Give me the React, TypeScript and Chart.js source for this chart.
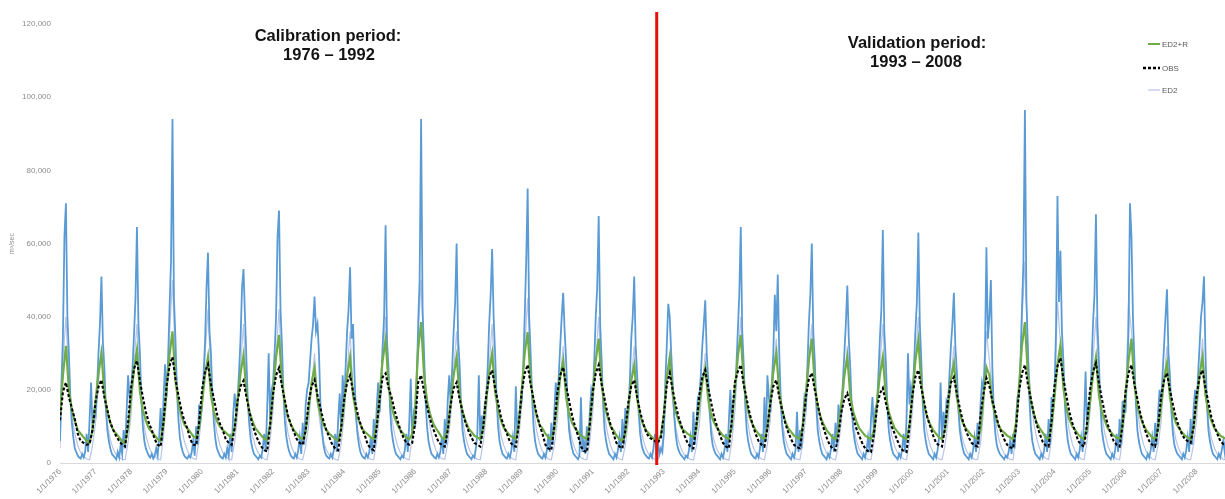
import { useEffect, useRef } from "react";
import { Chart, registerables } from "chart.js";

Chart.register(...registerables);

// Hydrological years shown on the axis
const YEARS = [
  1976, 1977, 1978, 1979, 1980, 1981, 1982, 1983, 1984, 1985, 1986, 1987, 1988,
  1989, 1990, 1991, 1992, 1993, 1994, 1995, 1996, 1997, 1998, 1999, 2000, 2001,
  2002, 2003, 2004, 2005, 2006, 2007, 2008,
];

// Observed discharge, monthly (1st of each month), thousand m³/sec
const OBS: number[][] = [
  [11.7, 19.5, 22, 18, 15, 12, 8, 6, 5.5, 5, 5.2, 9.1],
  [16.7, 20.8, 22.7, 18, 14.5, 11, 9, 7.3, 6, 5, 4.5, 11],
  [20.5, 25.8, 28, 22.4, 18, 14, 11, 9, 6.5, 5, 4.5, 11.5],
  [21, 26.5, 29, 23, 18.5, 14.5, 11.5, 9.5, 6.5, 5, 4.8, 11],
  [20, 25, 27, 21.5, 17.5, 13.5, 10.8, 9, 6.5, 5.5, 5, 9.5],
  [17, 21, 22.5, 18, 14, 10.5, 8, 6, 4.5, 3.5, 3.2, 10.5],
  [19, 24, 26, 21, 17, 13, 10.5, 8.5, 6.5, 5.5, 5, 9],
  [16.5, 21, 22.7, 18.5, 15, 11.5, 9, 7, 5, 4, 3.5, 9.5],
  [17.5, 22, 24, 19.5, 15.5, 12, 9.5, 7.5, 5, 4, 3.5, 9.8],
  [17.5, 23.5, 24.5, 20.5, 18, 14.5, 11.7, 9, 7, 5.5, 5, 5.5],
  [11, 22, 24, 19.5, 15.5, 12, 9.5, 7.5, 5.5, 5, 4.5, 8.8],
  [16, 20.5, 22, 17.5, 14, 11, 8.8, 7, 5.5, 5, 4.5, 10],
  [18.5, 23.5, 25.4, 20.5, 16.5, 12.5, 10, 8, 5.8, 4.8, 4.5, 10.5],
  [19.5, 24.5, 26.8, 21.5, 17.5, 13.5, 10.5, 8, 5, 4, 3.5, 10],
  [19, 24, 26.2, 21, 17, 13, 10, 7.5, 4.5, 3.3, 3, 10.5],
  [19.5, 24.5, 26.8, 21.5, 17.5, 13.5, 10.5, 8, 5.5, 4.5, 4, 9],
  [16.5, 21, 22.7, 18, 14, 11, 8.5, 7, 6.5, 6, 5.5, 7],
  [13, 21.5, 24.6, 20, 16, 12.5, 10, 7.5, 5.5, 4.5, 4, 10.5],
  [18.5, 23.5, 25.4, 20.5, 16.5, 12.5, 10, 7.5, 5.5, 4.5, 4, 12],
  [22, 25, 26.8, 21.5, 17.5, 13.5, 10.5, 8, 6, 5, 4.5, 9.5],
  [16.5, 21, 22.7, 18, 14.5, 11, 8.5, 6.5, 5, 4.3, 4, 10],
  [18, 23, 24.6, 20, 16, 12, 9.5, 7, 5, 4, 3.5, 7.5],
  [14, 17.5, 19, 15.5, 12.5, 9.5, 7.5, 5.5, 4, 3.2, 3, 8],
  [15, 19, 20.5, 16.5, 13, 10, 8, 6, 4, 3.3, 3, 10],
  [18.5, 23.5, 25.4, 20.5, 16.5, 12.5, 10, 7.5, 5.5, 4.8, 4.5, 9.5],
  [17, 22, 23.5, 19, 15, 11.5, 9, 7, 5.5, 4.8, 4.5, 13],
  [19, 23.2, 21, 17, 14, 10.5, 8.5, 6.5, 5, 4.3, 4, 9.5],
  [19.5, 24.5, 26.8, 21.5, 17.5, 13.5, 10.5, 8, 5.8, 4.8, 4.5, 11.5],
  [21, 26.5, 28.7, 23, 18.5, 14, 11, 8.5, 6, 5, 4.5, 11],
  [20, 25, 27.3, 22, 17.5, 13.5, 10.5, 8, 6, 5, 4.5, 10.5],
  [19.5, 24.5, 26.8, 21.5, 17.5, 13.5, 10.5, 8, 6, 5, 4.5, 10],
  [18, 22.5, 24.6, 20, 16, 12.5, 10, 8, 6.5, 6, 5.5, 10],
  [18.5, 23.5, 25.4, 20.5, 16.5, 12.5, 10, 8, 6, 5.2, 5, 9],
];

// ED2+R simulation, monthly, thousand m³/sec
const ED2R: number[][] = [
  [13, 24, 32, 20, 14.5, 11.5, 9, 8, 7, 6, 5.5, 9],
  [17, 24.5, 30, 19, 14, 11, 9, 8, 7, 6, 5.5, 9.5],
  [17.5, 25.5, 31, 19.5, 14.5, 11.5, 9.5, 8.5, 7.5, 6.5, 6, 11],
  [20, 29.5, 36, 22.5, 16.5, 13, 10.5, 9.5, 8.5, 7.3, 6.8, 9.5],
  [16.5, 24, 29, 18.5, 14, 11.5, 10, 9, 8.3, 7.5, 7, 9.5],
  [17, 24.5, 29.5, 19, 14, 11.5, 9.5, 8.5, 7.5, 6.7, 6.3, 10.5],
  [19.5, 29, 35, 22, 16, 12.5, 10.5, 9, 8, 7, 6.5, 8.5],
  [15, 22, 26, 17, 13, 10.5, 9, 8, 7.3, 6.5, 6, 9.5],
  [16.5, 24, 29, 18.5, 14, 11.5, 9.5, 8.5, 7.8, 7, 6.5, 10.5],
  [19, 28, 33.6, 21.5, 15.5, 12.5, 10.5, 9, 8, 7, 6.5, 8],
  [15, 31, 38.5, 24, 17, 13.5, 11, 9.5, 8.3, 7, 6.5, 9.5],
  [16.5, 24, 29, 18.5, 14, 11.5, 9.5, 8.5, 7.5, 7, 6.5, 9.5],
  [17, 25, 30, 19.5, 14.5, 11.5, 9.5, 8.5, 7.5, 7, 6.5, 11],
  [20, 30, 35.8, 22.5, 16.5, 13, 10.5, 9.5, 8, 7, 6.5, 9],
  [16, 23.5, 28, 18, 13.5, 11, 9.5, 8.5, 7.5, 7, 6.5, 10.5],
  [19, 28, 34, 21.5, 15.5, 12.5, 10, 9, 7.5, 6.5, 6, 8],
  [15, 22.5, 26.8, 17.5, 13, 10.5, 9, 8, 7, 6.5, 6, 7.5],
  [13, 23.5, 29, 19, 14, 11.5, 9.5, 8.8, 8, 7.5, 7, 9],
  [16, 22, 26, 17.5, 13, 11, 9.5, 8.5, 7.5, 7, 6.5, 11],
  [20, 29, 35, 22, 16, 12.5, 10.5, 9, 8, 7, 6.5, 9.5],
  [17, 25, 30, 19.5, 14.5, 11.5, 9.5, 8.5, 7.5, 7, 6.5, 10.5],
  [19, 28, 34, 21.5, 15.5, 12.5, 10.5, 9, 8, 7, 6.5, 9],
  [16.5, 24, 29, 18.5, 14, 11.5, 9.5, 8.5, 7.5, 7, 6.5, 9],
  [16.5, 24, 29, 18.5, 14, 11.5, 9.5, 8.5, 7.5, 7, 6.5, 10.5],
  [19, 28, 33.6, 21.5, 15.5, 12.5, 10.5, 9, 8, 7, 6.5, 9],
  [15.5, 23, 27.3, 18, 13.5, 11, 9.5, 8.5, 7.5, 7, 6.5, 9],
  [18, 26.2, 24, 16.5, 13, 10.5, 9, 8.3, 7.5, 7, 6.5, 11],
  [21, 32, 38.5, 24, 17, 13.5, 11, 9.5, 8.3, 7, 6.5, 10],
  [18, 27, 32.2, 20.5, 15, 12, 10, 9, 7.8, 7, 6.5, 9.5],
  [16.5, 24, 29, 18.5, 14, 11.5, 9.5, 8.5, 7.5, 7, 6.5, 10.5],
  [19, 28, 34, 21.5, 15.5, 12.5, 10.5, 9, 8, 7, 6.5, 9],
  [15.5, 23, 27.3, 18, 13.5, 11, 9.5, 8.5, 7.5, 7, 6.5, 9.5],
  [16.5, 24, 29, 18.5, 14, 11.5, 9.5, 8.5, 7.5, 7, 6.5, 9],
];

// ED2 simulation, monthly, thousand m³/sec
const ED2: number[][] = [
  [4, 28, 40, 22, 13, 8, 4.8, 2.8, 1.8, 1.1, 0.9, 4.8],
  [11, 22, 32, 17.6, 10.6, 6.4, 3.8, 2.2, 1.6, 1, 0.9, 5.7],
  [13, 27, 38, 21, 12.5, 7.6, 4.6, 2.7, 1.8, 1.1, 0.9, 7.5],
  [17.5, 35, 50, 27.5, 16.5, 10, 6, 3.5, 2, 1.2, 1, 6.3],
  [14.7, 29.4, 42, 23, 13.9, 8.4, 5, 2.9, 1.8, 1.1, 0.9, 5.7],
  [13.3, 26.6, 38, 20.9, 12.5, 7.6, 4.6, 2.7, 1.8, 1.1, 0.9, 6.3],
  [14.7, 29.4, 42, 23, 13.9, 8.4, 5, 2.9, 1.8, 1.1, 0.9, 4.5],
  [10.5, 21, 30, 16.5, 10, 6, 3.6, 2.1, 1.6, 1, 0.8, 5.4],
  [12.6, 25, 36, 19.8, 11.9, 7.2, 4.3, 2.5, 1.7, 1, 0.9, 6],
  [14, 28, 40, 22, 13.2, 8, 4.8, 2.8, 1.8, 1.1, 0.9, 7.5],
  [17.5, 35, 50, 27.5, 16.5, 10, 6, 3.5, 2, 1.2, 1, 5.4],
  [12.6, 25, 36, 19.8, 11.9, 7.2, 4.3, 2.5, 1.7, 1, 0.9, 5.7],
  [13.3, 26.6, 38, 20.9, 12.5, 7.6, 4.6, 2.7, 1.8, 1.1, 0.9, 6.8],
  [15.8, 31.5, 45, 24.8, 14.9, 9, 5.4, 3.2, 1.9, 1.1, 0.9, 4.8],
  [11.2, 22.4, 32, 17.6, 10.6, 6.4, 3.8, 2.2, 1.6, 1, 0.9, 6],
  [14, 28, 40, 22, 13.2, 8, 4.8, 2.8, 1.8, 1.1, 0.9, 4.8],
  [11.2, 22.4, 32, 17.6, 10.6, 6.4, 3.8, 2.2, 1.6, 1, 0.9, 3],
  [8, 21, 30, 16.5, 10, 6, 3.6, 2.1, 1.6, 1, 0.8, 4.5],
  [10.5, 21, 30, 16.5, 10, 6, 3.6, 2.1, 1.6, 1, 0.8, 6],
  [14, 28, 40, 22, 13.2, 8, 4.8, 2.8, 1.8, 1.1, 0.9, 5.1],
  [11.9, 23.8, 34, 18.7, 11.2, 6.8, 4.1, 2.4, 1.7, 1, 0.9, 5.7],
  [13.3, 26.6, 38, 20.9, 12.5, 7.6, 4.6, 2.7, 1.8, 1.1, 0.9, 4.8],
  [11.2, 22.4, 32, 17.6, 10.6, 6.4, 3.8, 2.2, 1.6, 1, 0.9, 5.7],
  [13.3, 26.6, 38, 20.9, 12.5, 7.6, 4.6, 2.7, 1.8, 1.1, 0.9, 6],
  [14, 28, 40, 22, 13.2, 8, 4.8, 2.8, 1.8, 1.1, 0.9, 4.8],
  [11.2, 22.4, 32, 17.6, 10.6, 6.4, 3.8, 2.2, 1.6, 1, 0.9, 5.4],
  [14, 36, 28, 19.8, 11.9, 7.2, 4.3, 2.5, 1.7, 1, 0.9, 8.3],
  [19, 38.5, 55, 30, 18, 11, 6.6, 3.9, 2.1, 1.3, 1, 6.6],
  [17, 44, 33, 24, 14.5, 8.8, 5.3, 3.1, 1.9, 1.1, 0.9, 6],
  [14, 28, 40, 22, 13.2, 8, 4.8, 2.8, 1.8, 1.1, 0.9, 6.6],
  [15.4, 44, 36, 24.2, 14.5, 8.8, 5.3, 3.1, 1.9, 1.1, 0.9, 4.8],
  [11.2, 22.4, 32, 17.6, 10.6, 6.4, 3.8, 2.2, 1.6, 1, 0.9, 5.1],
  [11.9, 23.8, 34, 18.7, 11.2, 6.8, 4.1, 2.4, 1.7, 1, 0.9, 4],
];

// ED2 simulation at half-month steps (1st and 16th), thousand m³/sec
const ED2_HALF_MONTH: number[][] = [
  [6, 22, 35, 62, 71, 40, 30, 18, 11, 7, 4, 3, 2, 1.5, 1.2, 2.5, 1.5, 3, 8, 3, 12, 22, 9, 14],
  [13, 20, 30, 38, 51, 33, 26, 15, 9, 6, 4, 2.5, 2, 1.5, 1, 3, 1.5, 5, 2.5, 9, 4, 14, 24, 18],
  [20, 26, 35, 45, 64.5, 38, 30, 17, 10, 6, 4, 3, 2, 1.5, 2.5, 1.2, 2, 4, 2, 7, 15, 6, 18, 27],
  [18, 28, 42, 55, 94, 45, 34, 20, 12, 7, 4.5, 3, 2, 1.5, 1.2, 2, 1.5, 3, 6, 2, 10, 5, 16, 12],
  [16, 24, 33, 48, 57.5, 36, 30, 18, 11, 6.5, 4, 3, 2, 1.5, 1.2, 2.5, 1.5, 4, 2, 8, 3, 13, 19, 14],
  [18, 25, 34, 48, 53, 40, 28, 16, 10, 6, 4, 2.5, 2, 1.5, 1, 2, 1.5, 4, 8, 3, 15, 30, 12, 20],
  [22, 30, 40, 62, 69, 42, 32, 19, 11, 7, 4.5, 3, 2, 1.5, 1.2, 2.5, 1.5, 3.5, 7, 2.5, 11, 5, 16, 20],
  [22, 28, 34, 38, 45.5, 36, 38, 30, 16, 9, 5, 3, 2, 1.5, 1.2, 2.5, 1.5, 3.5, 8, 3, 12, 19, 9, 24],
  [16, 26, 36, 42, 53.5, 34, 38, 24, 13, 8, 5, 3, 2, 1.5, 1.2, 2.5, 1.5, 3, 7, 2.5, 12, 5, 15, 22],
  [14, 22, 32, 40, 65, 33, 26, 15, 9, 6, 4, 2.5, 2, 1.5, 1, 2, 1.5, 3.5, 8, 3, 11, 23, 7, 13],
  [10, 20, 38, 50, 94, 42, 30, 17, 10, 6, 4, 2.5, 2, 1.5, 1.2, 2.5, 1.5, 3, 7, 2.5, 12, 5, 17, 24],
  [16, 26, 36, 44, 60, 34, 27, 16, 9, 6, 4, 2.5, 2, 1.5, 1, 2, 1.5, 4, 8, 24, 6, 13, 9, 16],
  [18, 26, 38, 46, 58.5, 40, 30, 18, 10, 6, 4, 2.5, 2, 1.5, 1.2, 2.5, 1.5, 3.5, 7, 3, 21, 8, 12, 15],
  [17, 26, 40, 55, 75, 40, 30, 18, 10, 6, 4, 2.5, 2, 1.5, 1.2, 2.5, 1.5, 3.5, 8, 3, 11, 5, 14, 22],
  [16, 24, 32, 40, 46.5, 36, 28, 16, 9, 6, 4, 2.5, 2, 1.5, 1, 2, 18, 3, 6, 2.5, 10, 5, 14, 20],
  [18, 28, 40, 48, 67.5, 38, 28, 16, 9, 6, 4, 2.5, 2, 1.5, 1, 2.5, 1.5, 3.5, 7, 3, 12, 5, 15, 12],
  [14, 22, 34, 40, 51, 32, 24, 14, 8, 5, 3.5, 2.5, 2, 1.5, 1.2, 2.5, 1.5, 4, 8, 3, 6, 2.5, 4, 3],
  [8, 22, 32, 43.5, 40, 30, 22, 13, 8, 5, 3.5, 2.5, 2, 1.5, 1, 2, 1.5, 3.5, 7, 3, 14, 5, 11, 18],
  [18, 24, 32, 38, 44.5, 30, 23, 14, 8, 5, 3.5, 2.5, 2, 1.5, 1, 2.5, 1.5, 3.5, 8, 3, 12, 20, 9, 17],
  [18, 26, 36, 46, 64.5, 36, 27, 16, 9, 6, 4, 2.5, 2, 1.5, 1.2, 2.5, 1.5, 4, 8, 3, 18, 6, 24, 18],
  [14, 22, 30, 46, 36, 51.5, 30, 18, 10, 6, 4, 2.5, 2, 1.5, 1, 2.5, 1.5, 3.5, 14, 3, 9, 4, 12, 18],
  [16, 26, 38, 46, 60, 36, 28, 16, 9, 6, 4, 2.5, 2, 1.5, 1, 2.5, 1.5, 4, 8, 3, 11, 5, 16, 12],
  [14, 22, 30, 38, 48.5, 34, 26, 15, 9, 6, 4, 2.5, 2, 1.5, 1, 2.5, 1.5, 3.5, 7, 3, 12, 18, 7, 15],
  [16, 24, 34, 42, 63.7, 36, 28, 16, 9, 6, 4, 2.5, 2, 1.5, 1, 2.5, 1.5, 3.5, 8, 3, 12, 30, 16, 21],
  [18, 26, 36, 44, 63, 38, 28, 16, 9, 6, 4, 2.5, 2, 1.5, 1, 2.5, 1.5, 3.5, 7, 22, 6, 14, 9, 17],
  [16, 24, 32, 38, 46.5, 32, 25, 15, 9, 6, 4, 2.5, 2, 1.5, 1, 2.5, 1.5, 3.5, 7, 3, 11, 5, 16, 22],
  [20, 30, 59, 34, 40, 50, 26, 14, 8, 5, 3.5, 2.5, 2, 1.5, 1, 2, 1.5, 3, 6, 2.5, 8, 4, 12, 18],
  [18, 28, 42, 55, 96.5, 45, 32, 18, 10, 6, 4, 2.5, 2, 1.5, 1, 2.5, 1.5, 3.5, 8, 3, 12, 5, 18, 14],
  [20, 36, 73, 44, 58, 36, 28, 16, 10, 6, 4, 2.5, 2, 1.5, 1, 2.5, 1.5, 3.5, 7, 3, 12, 25, 8, 16],
  [16, 26, 38, 46, 68, 38, 28, 16, 9, 6, 4, 2.5, 2, 1.5, 1, 2.5, 1.5, 3.5, 8, 3, 12, 5, 17, 14],
  [14, 24, 36, 71, 62, 40, 28, 16, 9, 6, 4, 2.5, 2, 1.5, 1, 2.5, 1.5, 3.5, 7, 3, 11, 5, 14, 20],
  [16, 24, 32, 40, 47.5, 30, 24, 14, 8, 5, 3.5, 2.5, 2, 1.5, 1, 2.5, 1.5, 3.5, 7, 3, 12, 5, 15, 20],
  [16, 24, 32, 40, 44, 51, 30, 16, 9, 6, 4, 2.5, 2, 1.5, 1, 2.5, 1.5, 3.5, 6, 3, 8, 4, 6, 5],
];

// Boundary between the calibration and validation periods (decimal year)
const SPLIT_AT = 1992.8;
const X_MIN = 1976;
const X_MAX = 2008.8;
const Y_MAX = 120000;
const Y_STEP = 20000;

const FONT = '"Liberation Sans", Arial, Helvetica, sans-serif';

const COLORS = {
  obs: "#000000",
  ed2r: "#70ad47",
  ed2: "#b9c5e8",
  ed2Half: "#5b9bd5",
  split: "#e3120b",
  caption: "#141414",
  axisText: "#8c8c8c",
  legendText: "#595959",
};

// Flatten one row per year into {x: decimal year, y: m³/sec}
function toPoints(rows: number[][]) {
  const pts: { x: number; y: number }[] = [];
  rows.forEach((row, i) => {
    const n = row.length;
    row.forEach((v, j) => pts.push({ x: YEARS[i] + j / n, y: v * 1000 }));
  });
  return pts;
}

const overlayPlugin = {
  id: "periodOverlay",
  afterDatasetsDraw(chart: any) {
    const { ctx, chartArea, scales } = chart;
    ctx.save();

    // calibration / validation split
    const sx = scales.x.getPixelForValue(SPLIT_AT);
    ctx.strokeStyle = COLORS.split;
    ctx.lineWidth = 3;
    ctx.beginPath();
    ctx.moveTo(sx, 12);
    ctx.lineTo(sx, chartArea.bottom + 2);
    ctx.stroke();

    // period captions
    ctx.fillStyle = COLORS.caption;
    ctx.font = `bold 16.5px ${FONT}`;
    ctx.textAlign = "center";
    ctx.textBaseline = "middle";
    ctx.fillText("Calibration period:", 328, 36);
    ctx.fillText("1976 – 1992", 329, 55);
    ctx.fillText("Validation period:", 917, 43);
    ctx.fillText("1993 – 2008", 916, 62);

    // legend
    const entries = [
      { label: "ED2+R", color: COLORS.ed2r, width: 2, dash: [] as number[], x0: 1148, y: 44 },
      { label: "OBS", color: COLORS.obs, width: 2.6, dash: [3, 2], x0: 1143, y: 68 },
      { label: "ED2", color: COLORS.ed2, width: 1.2, dash: [] as number[], x0: 1148, y: 90 },
    ];
    ctx.font = `8px ${FONT}`;
    ctx.textAlign = "left";
    for (const e of entries) {
      ctx.strokeStyle = e.color;
      ctx.lineWidth = e.width;
      ctx.setLineDash(e.dash);
      ctx.beginPath();
      ctx.moveTo(e.x0, e.y);
      ctx.lineTo(1160, e.y);
      ctx.stroke();
      ctx.setLineDash([]);
      ctx.fillStyle = COLORS.legendText;
      ctx.fillText(e.label, 1162, e.y + 0.5);
    }
    ctx.restore();
  },
};

export default function App() {
  const canvasRef = useRef<HTMLCanvasElement | null>(null);

  useEffect(() => {
    if (!canvasRef.current) return;
    const chart = new Chart(canvasRef.current, {
      type: "line",
      data: {
        datasets: [
          {
            label: "OBS",
            data: toPoints(OBS),
            borderColor: COLORS.obs,
            borderWidth: 2.1,
            borderDash: [3, 2],
            pointRadius: 0,
            tension: 0,
            order: 0,
          },
          {
            label: "ED2+R",
            data: toPoints(ED2R),
            borderColor: COLORS.ed2r,
            borderWidth: 2.2,
            pointRadius: 0,
            tension: 0,
            order: 1,
          },
          {
            label: "ED2 (half-monthly)",
            data: toPoints(ED2_HALF_MONTH),
            borderColor: COLORS.ed2Half,
            borderWidth: 1.8,
            pointRadius: 0,
            tension: 0,
            order: 2,
          },
          {
            label: "ED2",
            data: toPoints(ED2),
            borderColor: COLORS.ed2,
            borderWidth: 1.2,
            pointRadius: 0,
            tension: 0,
            order: 3,
          },
        ],
      },
      options: {
        animation: false,
        responsive: false,
        devicePixelRatio: 1,
        layout: { padding: { top: 24, left: 0, right: 0, bottom: 0 } },
        plugins: {
          legend: { display: false },
          tooltip: { enabled: false },
        },
        scales: {
          x: {
            type: "linear",
            min: X_MIN,
            max: X_MAX,
            grid: { display: false, drawTicks: false },
            border: { display: true, color: "#d9d9d9", width: 1 },
            ticks: {
              stepSize: 1,
              maxTicksLimit: 60,
              autoSkip: false,
              includeBounds: false,
              minRotation: 45,
              maxRotation: 45,
              padding: 4,
              color: COLORS.axisText,
              font: { family: FONT, size: 8 },
              callback: (v: any) => (Number.isInteger(v) ? `1/1/${v}` : ""),
            },
            afterFit: (s: any) => {
              s.height = 36;
            },
          },
          y: {
            type: "linear",
            min: 0,
            max: Y_MAX,
            grid: { display: false, drawTicks: false },
            border: { display: false },
            ticks: {
              stepSize: Y_STEP,
              padding: 9,
              color: COLORS.axisText,
              font: { family: FONT, size: 8 },
              callback: (v: any) => Number(v).toLocaleString("en-US"),
            },
            title: {
              display: true,
              text: "m³/sec",
              color: COLORS.axisText,
              font: { family: FONT, size: 7 },
              padding: { top: 8, bottom: 0 },
            },
            afterFit: (s: any) => {
              s.width = 60;
            },
          },
        },
      },
      plugins: [overlayPlugin],
    });
    return () => chart.destroy();
  }, []);

  return (
    <div style={{ position: "fixed", left: 0, top: 0, width: 1225, height: 499, background: "#fff" }}>
      <canvas ref={canvasRef} width={1225} height={499} style={{ display: "block" }} />
    </div>
  );
}
